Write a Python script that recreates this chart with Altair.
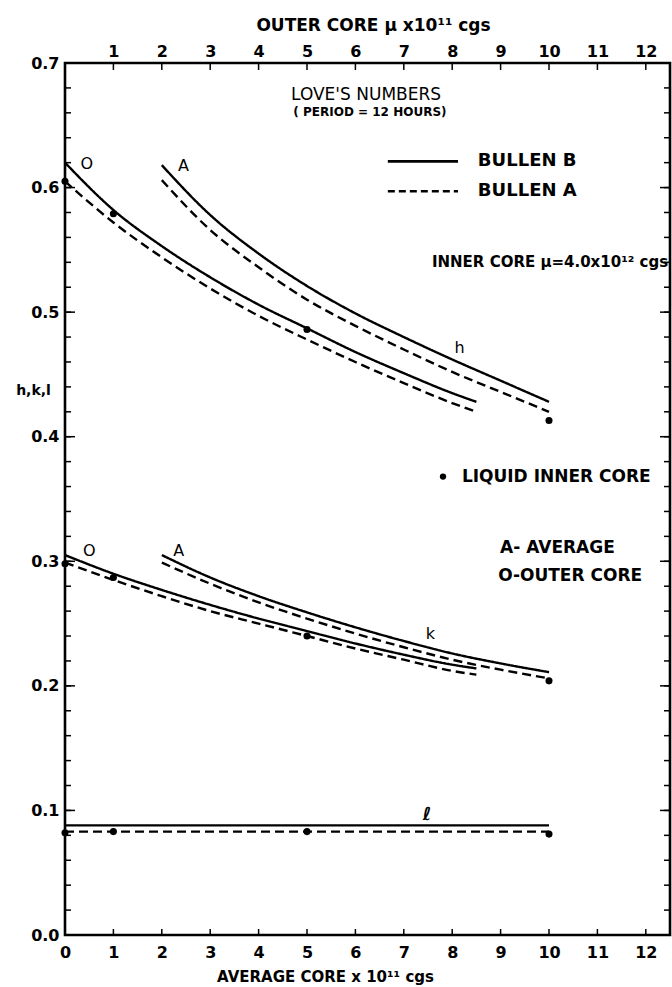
import altair as alt
import pandas as pd

# ---------------- data ----------------
x_outer = [0, 1, 2, 3, 4, 5, 6, 7, 8, 8.5]
x_avg = [2, 3, 4, 5, 6, 7, 8, 9, 10]
x_l = [0, 10]

h_outer_B = [0.620, 0.582, 0.553, 0.528, 0.506, 0.487, 0.468, 0.451, 0.435, 0.428]
h_outer_A = [0.605, 0.572, 0.544, 0.519, 0.497, 0.478, 0.460, 0.443, 0.427, 0.420]
h_avg_B = [0.618, 0.578, 0.547, 0.521, 0.499, 0.480, 0.462, 0.445, 0.428]
h_avg_A = [0.606, 0.566, 0.536, 0.510, 0.489, 0.470, 0.452, 0.436, 0.420]

k_outer_B = [0.305, 0.290, 0.277, 0.265, 0.254, 0.244, 0.234, 0.225, 0.217, 0.214]
k_outer_A = [0.299, 0.285, 0.272, 0.260, 0.250, 0.240, 0.230, 0.221, 0.212, 0.209]
k_avg_B = [0.305, 0.287, 0.272, 0.259, 0.247, 0.236, 0.226, 0.218, 0.211]
k_avg_A = [0.299, 0.282, 0.267, 0.254, 0.242, 0.231, 0.221, 0.213, 0.206]

l_B = [0.088, 0.088]
l_A = [0.083, 0.083]

liquid_x = [0, 1, 5, 10]
liquid_h = [0.605, 0.579, 0.486, 0.413]
liquid_k = [0.298, 0.287, 0.240, 0.204]
liquid_l = [0.082, 0.083, 0.083, 0.081]

x_ticks = list(range(0, 13))
x_top_ticks = list(range(1, 13))
y_major = [0.0, 0.1, 0.2, 0.3, 0.4, 0.5, 0.6, 0.7]
y_minor = [round(i * 0.02, 2) for i in range(36)]

# curve labels
curve_labels = ["O", "A", "h", "O", "A", "k"]
curve_label_x = [0.45, 2.45, 8.15, 0.50, 2.35, 7.55]
curve_label_v = [0.619, 0.617, 0.471, 0.308, 0.308, 0.242]
ell_label = ["ℓ"]
ell_x = [7.48]
ell_v = [0.096]

# legend / notes
legend_names = ["BULLEN B", "BULLEN A"]
legend_v = [0.621, 0.597]
legend_x0 = [6.67, 6.67]
legend_x1 = [8.12, 8.12]
legend_tx = [8.53, 8.53]

# ---------------- tables ----------------
rows = []
def add(name, model, xs, vs):
    for x, v in zip(xs, vs):
        rows.append({"curve": name, "model": model, "x": x, "v": v})

add("hOB", "BULLEN B", x_outer, h_outer_B)
add("hOA", "BULLEN A", x_outer, h_outer_A)
add("hAB", "BULLEN B", x_avg, h_avg_B)
add("hAA", "BULLEN A", x_avg, h_avg_A)
add("kOB", "BULLEN B", x_outer, k_outer_B)
add("kOA", "BULLEN A", x_outer, k_outer_A)
add("kAB", "BULLEN B", x_avg, k_avg_B)
add("kAA", "BULLEN A", x_avg, k_avg_A)
add("lB", "BULLEN B", x_l, l_B)
add("lA", "BULLEN A", x_l, l_A)
lines_df = pd.DataFrame(rows)

dots_df = pd.DataFrame({
    "x": liquid_x * 3,
    "v": liquid_h + liquid_k + liquid_l,
})

W, H = 605, 872
FONT = "DejaVu Sans"

xscale = alt.Scale(domain=[0, 12.5], nice=False, zero=False)
yscale = alt.Scale(domain=[0, 0.7], nice=False, zero=False)

bottom_axis = alt.Axis(
    orient="bottom", values=x_ticks, format="d", ticks=False, domain=False, grid=False,
    labelFlush=False, labelPadding=9, labelFont=FONT, labelFontSize=16, labelFontWeight="bold",
    labelColor="black",
    title="AVERAGE CORE x 10¹¹ cgs", titleFont=FONT, titleFontSize=15, titleFontWeight="bold",
    titleColor="black", titleX=260, titleY=41, titleAlign="center", titleBaseline="middle",
)
top_axis = alt.Axis(
    orient="top", values=x_top_ticks, format="d", ticks=False, domain=False, grid=False,
    labelFlush=False, labelPadding=4, labelFont=FONT, labelFontSize=16, labelFontWeight="bold",
    labelColor="black",
    title="OUTER CORE μ x10¹¹ cgs", titleFont=FONT, titleFontSize=17, titleFontWeight="bold",
    titleColor="black", titleX=308, titleY=-38, titleAlign="center", titleBaseline="middle",
)
left_axis = alt.Axis(
    orient="left", values=y_major, format=".1f", ticks=False, domain=False, grid=False,
    labelFlush=False, labelPadding=6, labelFont=FONT, labelFontSize=16, labelFontWeight="bold",
    labelColor="black",
    title="h,k,l", titleFont=FONT, titleFontSize=14, titleFontWeight="bold", titleColor="black",
    titleAngle=0, titleX=-32, titleY=327, titleAlign="center", titleBaseline="middle",
)

X = lambda axis=None: alt.X("x:Q", scale=xscale, axis=axis)
Y = lambda: alt.Y("v:Q", scale=yscale, axis=left_axis)

lines = alt.Chart(lines_df).mark_line(
    color="black", strokeWidth=2.4, interpolate="monotone"
).encode(
    x=X(bottom_axis),
    y=Y(),
    detail="curve:N",
    strokeDash=alt.StrokeDash(
        "model:N",
        scale=alt.Scale(domain=["BULLEN B", "BULLEN A"], range=[[1, 0], [9, 5]]),
        legend=None,
    ),
)

dots = alt.Chart(dots_df).mark_circle(color="black", opacity=1, size=50).encode(
    x=X(top_axis), y=Y()
)

# inward ticks
xt_df = pd.DataFrame({"x": x_ticks[1:]})
bottom_ticks = alt.Chart(xt_df).mark_rule(color="black", strokeWidth=1.5).encode(
    x=X(), y=alt.value(H), y2=alt.value(H - 6)
)
top_ticks = alt.Chart(xt_df).mark_rule(color="black", strokeWidth=1.5).encode(
    x=X(), y=alt.value(0), y2=alt.value(7)
)
ymaj_df = pd.DataFrame({"v": y_major})
ymin_df = pd.DataFrame({"v": y_minor})
left_major = alt.Chart(ymaj_df).mark_rule(color="black", strokeWidth=1.5).encode(
    y=Y(), x=alt.value(0), x2=alt.value(10)
)
left_minor = alt.Chart(ymin_df).mark_rule(color="black", strokeWidth=1.5).encode(
    y=Y(), x=alt.value(0), x2=alt.value(6)
)
right_major = alt.Chart(ymaj_df).mark_rule(color="black", strokeWidth=1.5).encode(
    y=Y(), x=alt.value(W), x2=alt.value(W - 10)
)
right_minor = alt.Chart(ymin_df).mark_rule(color="black", strokeWidth=1.5).encode(
    y=Y(), x=alt.value(W), x2=alt.value(W - 6)
)

# curve labels
cl_df = pd.DataFrame({"t": curve_labels, "x": curve_label_x, "v": curve_label_v})
curve_text = alt.Chart(cl_df).mark_text(
    font=FONT, fontSize=16, fontWeight="normal", color="black", align="center", baseline="middle"
).encode(x=X(), y=Y(), text="t:N")
ell_df = pd.DataFrame({"t": ell_label, "x": ell_x, "v": ell_v})
ell_text = alt.Chart(ell_df).mark_text(
    font=FONT, fontSize=18, fontStyle="italic", fontWeight="bold", color="black",
    align="center", baseline="middle"
).encode(x=X(), y=Y(), text="t:N")

# legend (manual)
leg_df = pd.DataFrame({"name": legend_names, "x": legend_x0, "x2": legend_x1,
                       "tx": legend_tx, "v": legend_v})
leg_lines = alt.Chart(leg_df).mark_rule(color="black", strokeWidth=2.6).encode(
    x=X(), x2="x2:Q", y=Y(),
    strokeDash=alt.StrokeDash(
        "name:N",
        scale=alt.Scale(domain=["BULLEN B", "BULLEN A"], range=[[1, 0], [7, 4]]),
        legend=None,
    ),
)
leg_text = alt.Chart(leg_df).mark_text(
    font=FONT, fontSize=18, fontWeight="bold", color="black", align="left", baseline="middle"
).encode(x=alt.X("tx:Q", scale=xscale, axis=None), y=Y(), text="name:N")

# notes
centre_df = pd.DataFrame({"t": ["LOVE'S NUMBERS"], "x": [6.22], "v": [0.674]})
centre_text = alt.Chart(centre_df).mark_text(
    font=FONT, fontSize=17, fontWeight="normal", color="black", align="center", baseline="middle"
).encode(x=X(), y=Y(), text="t:N")
period_df = pd.DataFrame({"t": ["( PERIOD = 12 HOURS)"], "x": [6.30], "v": [0.661]})
period_text = alt.Chart(period_df).mark_text(
    font=FONT, fontSize=12, fontWeight="bold", color="black", align="center", baseline="middle"
).encode(x=X(), y=Y(), text="t:N")
inner_df = pd.DataFrame({"t": ["INNER CORE μ=4.0x10¹² cgs"], "x": [12.46], "v": [0.540]})
inner_text = alt.Chart(inner_df).mark_text(
    font=FONT, fontSize=15, fontWeight="bold", color="black", align="right", baseline="middle"
).encode(x=X(), y=Y(), text="t:N")
notes_df = pd.DataFrame({
    "t": ["LIQUID INNER CORE", "A- AVERAGE", "O-OUTER CORE"],
    "x": [8.20, 8.99, 8.95],
    "v": [0.368, 0.311, 0.288],
})
notes_text = alt.Chart(notes_df).mark_text(
    font=FONT, fontSize=17, fontWeight="bold", color="black", align="left", baseline="middle"
).encode(x=X(), y=Y(), text="t:N")
bullet_df = pd.DataFrame({"x": [7.81], "v": [0.368]})
bullet = alt.Chart(bullet_df).mark_circle(color="black", opacity=1, size=40).encode(x=X(), y=Y())

chart = alt.layer(
    lines, dots, bottom_ticks, top_ticks, left_major, left_minor, right_major, right_minor,
    curve_text, ell_text, leg_lines, leg_text, centre_text, period_text, inner_text,
    notes_text, bullet,
).resolve_axis(x="independent").resolve_scale(strokeDash="independent").properties(
    width=W, height=H,
    autosize=alt.AutoSizeParams(type="none"),
    padding={"left": 65, "top": 63, "right": 2, "bottom": 52},
    background="white",
).configure_view(stroke="black", strokeWidth=2.6)

chart.save("out.html", embed_options={"renderer": "svg", "actions": False})
